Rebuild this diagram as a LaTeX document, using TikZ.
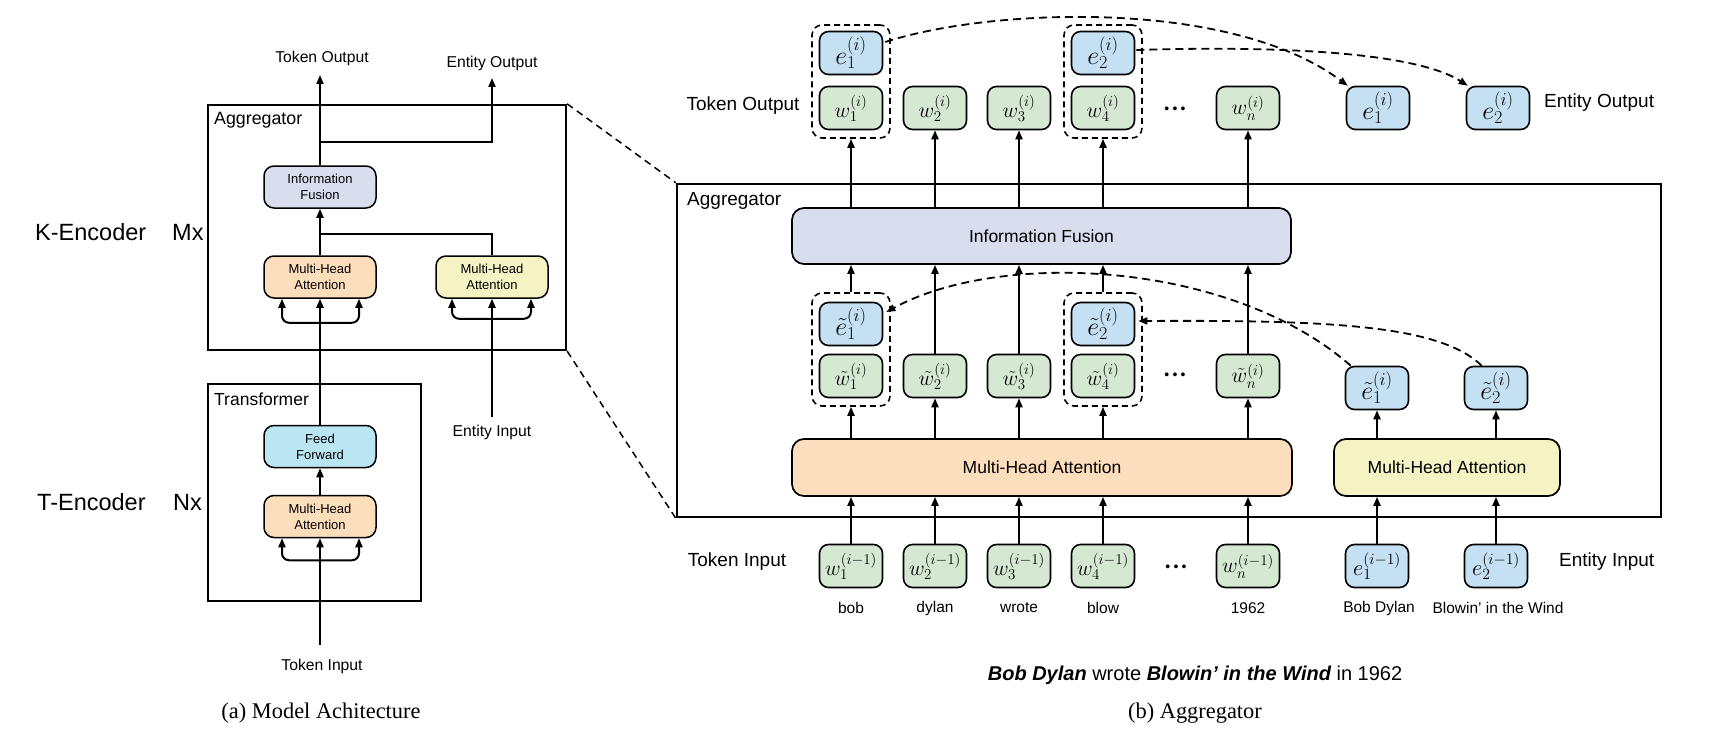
\documentclass[tikz,border=0pt]{standalone}
\usepackage{fix-cm}
\usepackage[no-math]{fontspec}
\setmainfont{Liberation Serif}
\setsansfont{Liberation Sans}
\usetikzlibrary{arrows.meta,calc}
\newcommand{\myfs}[1]{\fontsize{#1}{#1}\selectfont}
\definecolor{wgreen}{HTML}{D4E8D2}
\definecolor{eblue}{HTML}{C5E0F3}
\definecolor{iflav}{HTML}{D9DEEE}
\definecolor{mhaor}{HTML}{FDDEBC}
\definecolor{mhaye}{HTML}{F5F2C3}
\definecolor{ffcyan}{HTML}{BAE5F3}
\tikzset{
  lbl/.style={font=\sffamily\myfs{15.7}, inner sep=0pt},
  rlbl/.style={font=\sffamily\myfs{19}, inner sep=0pt},
  wordlbl/.style={font=\sffamily\myfs{15.5}, inner sep=0pt},
  enclbl/.style={font=\sffamily\myfs{23.5}, inner sep=0pt, anchor=west},
  caplbl/.style={font=\rmfamily\myfs{22.4}, inner sep=0pt},
  outerframe/.style={draw, line width=2.3pt, inner sep=0pt},
  sbox/.style={draw, line width=1.5pt, rounded corners=10pt, minimum width=112pt, minimum height=42pt, inner sep=0pt, align=center, font=\sffamily\fontsize{13}{15.7}\selectfont},
  bigbox/.style={draw, line width=1.7pt, rounded corners=12pt, inner sep=0pt, font=\sffamily\myfs{17.5}},
  wbox/.style={draw, line width=1.6pt, rounded corners=9pt, fill=wgreen, minimum width=63pt, minimum height=43pt, inner sep=0pt, font=\myfs{21.5}},
  ebox/.style={wbox, fill=eblue, font=\myfs{26}},
  einbox/.style={wbox, fill=eblue, font=\myfs{22.5}},
  grp/.style={draw, line width=1.6pt, dash pattern=on 6pt off 4pt, rounded corners=10pt, inner sep=0pt, minimum width=78pt, minimum height=113pt},
  conn/.style={line width=2pt},
  arr/.style={line width=2pt, -{Triangle[length=9pt,width=7pt]}},
  dasharr/.style={line width=1.8pt, dash pattern=on 8pt off 5pt, -{Triangle[length=9pt,width=7pt]}},
  zoomline/.style={line width=1.5pt, dash pattern=on 7pt off 5pt},
  dotsnode/.style={font=\sffamily\myfs{14}, inner sep=0pt},
}
\newcommand{\mydots}{\textbullet\hspace{3.2pt}\textbullet\hspace{3.2pt}\textbullet}
\begin{document}
\begin{tikzpicture}[x=1pt,y=-1pt]
\useasboundingbox (0,0) rectangle (1720,741);
% ================= (a) =================
\node[outerframe, minimum width=358pt, minimum height=245pt] (lagg) at (387,227.5) {};
\node[outerframe, minimum width=213pt, minimum height=217pt] (ltrans) at (314.5,492.5) {};
\node[lbl, font=\sffamily\myfs{17.8}, anchor=west] (laggl) at (214,120) {Aggregator};
\node[lbl, font=\sffamily\myfs{17.5}, anchor=west] (ltransl) at (214,399) {Transformer};
\node[sbox, fill=iflav] (lif) at (320,187) {Information\\Fusion};
\node[sbox, fill=mhaor] (lmha) at (320,277) {Multi-Head\\Attention};
\node[sbox, fill=mhaye] (lmhay) at (492,277) {Multi-Head\\Attention};
\node[sbox, fill=ffcyan] (lff) at (320,446.5) {Feed\\Forward};
\node[sbox, fill=mhaor] (ltmha) at (320,516.5) {Multi-Head\\Attention};
\node[lbl] (ltokout) at (322,58) {Token Output};
\node[lbl] (lentout) at (492,63) {Entity Output};
\node[lbl] (ltokin) at (322,666) {Token Input};
\node[lbl] (lentin) at (492,432) {Entity Input};
\node[enclbl] (kenc) at (35,232) {K-Encoder};
\node[enclbl] (kencm) at (172,232) {Mx};
\node[enclbl] (tenc) at (37,502) {T-Encoder};
\node[enclbl] (tencn) at (173,502) {Nx};
\node[caplbl] (capa) at (321,713) {(a) Model Achitecture};
\coordinate (tokoutend) at (320,75);
\coordinate (entoutend) at (492,78);
\coordinate (tokinstart) at (320,645);
\coordinate (entinstart) at (492,417);
\draw[arr] (lif.north) -- (tokoutend);
\draw[arr] ($(lif.north)+(0,-23)$) -| (entoutend);
\draw[arr] (lmha.north) -- (lif.south);
\draw[conn] (lmhay.north) |- ($(lif.south)+(0,25)$);
\draw[arr] (lff.north) -- (lmha.south);
\draw[arr, rounded corners=7pt] ($(lmha.south)+(0,24)$) -| ($(lmha.south)+(-38,0)$);
\draw[arr, rounded corners=7pt] ($(lmha.south)+(0,24)$) -| ($(lmha.south)+(39,0)$);
\draw[arr] (ltmha.north) -- (lff.south);
\draw[arr] (tokinstart) -- (ltmha.south);
\draw[arr, rounded corners=7pt] ($(ltmha.south)+(0,22)$) -| ($(ltmha.south)+(-38,0)$);
\draw[arr, rounded corners=7pt] ($(ltmha.south)+(0,22)$) -| ($(ltmha.south)+(39,0)$);
\draw[arr] (entinstart) -- (lmhay.south);
\draw[arr, rounded corners=7pt] ($(lmhay.south)+(0,20)$) -| ($(lmhay.south)+(-40,0)$);
\draw[arr, rounded corners=7pt] ($(lmhay.south)+(0,20)$) -| ($(lmhay.south)+(39,0)$);
% ================= (b) =================
\node[outerframe, line width=2.5pt, minimum width=984pt, minimum height=333pt] (ragg) at (1169,350.5) {};
\draw[zoomline] (lagg.north east) -- (ragg.north west);
\draw[zoomline] (lagg.south east) -- (ragg.south west);
\node[rlbl, anchor=west] (raggl) at (687,201) {Aggregator};
\node[bigbox, fill=iflav, minimum width=499pt, minimum height=56pt] (rif) at (1041.5,236) {Information Fusion};
\node[bigbox, fill=mhaor, minimum width=500pt, minimum height=57pt] (rmha) at (1042,467.5) {Multi-Head Attention};
\node[bigbox, fill=mhaye, minimum width=226pt, minimum height=57pt] (rmhay) at (1447,467.5) {Multi-Head Attention};
% top row
\node[grp] (tg1) at (851,81.5) {};
\node[grp] (tg2) at (1103,81.5) {};
\node[ebox] (e1) at (851,53) {$e_1^{(i)}$};
\node[wbox] (w1) at (851,108) {$w_1^{(i)}$};
\node[wbox] (w2) at (935,108) {$w_2^{(i)}$};
\node[wbox] (w3) at (1019,108) {$w_3^{(i)}$};
\node[ebox] (e2) at (1103,53) {$e_2^{(i)}$};
\node[wbox] (w4) at (1103,108) {$w_4^{(i)}$};
\node[dotsnode] (tdots) at (1175,110) {\mydots};
\node[wbox] (wn) at (1248,108) {$w_n^{(i)}$};
\node[ebox] (e1o) at (1378,108) {$e_1^{(i)}$};
\node[ebox] (e2o) at (1498,108) {$e_2^{(i)}$};
\node[rlbl] (rtokout) at (743,106) {Token Output};
\node[rlbl, anchor=west] (rentout) at (1544,103) {Entity Output};
% middle row
\node[grp] (mg1) at (851,349.5) {};
\node[grp] (mg2) at (1103,349.5) {};
\node[ebox] (et1) at (851,324) {$\tilde{e}_1^{(i)}$};
\node[wbox] (wt1) at (851,376) {$\tilde{w}_1^{(i)}$};
\node[wbox] (wt2) at (935,376) {$\tilde{w}_2^{(i)}$};
\node[wbox] (wt3) at (1019,376) {$\tilde{w}_3^{(i)}$};
\node[ebox] (et2) at (1103,324) {$\tilde{e}_2^{(i)}$};
\node[wbox] (wt4) at (1103,376) {$\tilde{w}_4^{(i)}$};
\node[dotsnode] (mdots) at (1175,376) {\mydots};
\node[wbox] (wtn) at (1248,376) {$\tilde{w}_n^{(i)}$};
\node[ebox] (ett1) at (1377,388) {$\tilde{e}_1^{(i)}$};
\node[ebox] (ett2) at (1496,388) {$\tilde{e}_2^{(i)}$};
% bottom row
\node[wbox] (bw1) at (851,566) {$w_1^{(i-1)}$};
\node[wbox] (bw2) at (935,566) {$w_2^{(i-1)}$};
\node[wbox] (bw3) at (1019,566) {$w_3^{(i-1)}$};
\node[wbox] (bw4) at (1103,566) {$w_4^{(i-1)}$};
\node[dotsnode] (bdots) at (1176,568) {\mydots};
\node[wbox] (bwn) at (1248,566) {$w_n^{(i-1)}$};
\node[einbox] (be1) at (1377,566) {$e_1^{(i-1)}$};
\node[einbox] (be2) at (1496,566) {$e_2^{(i-1)}$};
\node[wordlbl] (lbob) at (851,608) {bob};
\node[wordlbl] (ldylan) at (935,608) {dylan};
\node[wordlbl] (lwrote) at (1019,608) {wrote};
\node[wordlbl] (lblow) at (1103,608) {blow};
\node[wordlbl] (l1962) at (1248,608) {1962};
\node[wordlbl] (lbd) at (1379,608) {Bob Dylan};
\node[wordlbl] (lbitw) at (1498,608) {Blowin’ in the Wind};
\node[rlbl] (rtokin) at (737,562) {Token Input};
\node[rlbl, anchor=west] (rentin) at (1559,562) {Entity Input};
\node[inner sep=0pt, font=\sffamily\myfs{20}] (sent) at (1195,675) {{\bfseries\itshape Bob Dylan} wrote {\bfseries\itshape Blowin’ in the Wind} in 1962};
\node[caplbl] (capb) at (1195,713) {(b) Aggregator};
% connectors top
\draw[arr] (w1 |- rif.north) -- (tg1.south);
\draw[arr] (w2 |- rif.north) -- (w2.south);
\draw[arr] (w3 |- rif.north) -- (w3.south);
\draw[arr] (w4 |- rif.north) -- (tg2.south);
\draw[arr] (wn |- rif.north) -- (wn.south);
% middle -> IF
\draw[arr] (mg1.north) -- (mg1 |- rif.south);
\draw[arr] (wt2.north) -- (wt2 |- rif.south);
\draw[arr] (wt3.north) -- (wt3 |- rif.south);
\draw[arr] (mg2.north) -- (mg2 |- rif.south);
\draw[arr] (wtn.north) -- (wtn |- rif.south);
% MHA -> middle
\draw[arr] (mg1 |- rmha.north) -- (mg1.south);
\draw[arr] (wt2 |- rmha.north) -- (wt2.south);
\draw[arr] (wt3 |- rmha.north) -- (wt3.south);
\draw[arr] (mg2 |- rmha.north) -- (mg2.south);
\draw[arr] (wtn |- rmha.north) -- (wtn.south);
\draw[arr] (ett1 |- rmhay.north) -- (ett1.south);
\draw[arr] (ett2 |- rmhay.north) -- (ett2.south);
% bottom -> MHA
\draw[arr] (bw1.north) -- (bw1 |- rmha.south);
\draw[arr] (bw2.north) -- (bw2 |- rmha.south);
\draw[arr] (bw3.north) -- (bw3 |- rmha.south);
\draw[arr] (bw4.north) -- (bw4 |- rmha.south);
\draw[arr] (bwn.north) -- (bwn |- rmha.south);
\draw[arr] (be1.north) -- (be1 |- rmhay.south);
\draw[arr] (be2.north) -- (be2 |- rmhay.south);
% dashed curves
\draw[dasharr] ($(e1.east)+(2,-11)$) .. controls (990,8) and (1230,-2) .. ($(e1o.north west)+(2,0)$);
\draw[dasharr] ($(e2.east)+(1,-3)$) .. controls (1300,45) and (1420,55) .. ($(e2o.north west)+(2,0)$);
\draw[dasharr] ($(ett1.north west)+(6,0)$) .. controls (1230,260) and (1000,250) .. ($(et1.east)+(3,-12)$);
\draw[dasharr] ($(ett2.north west)+(18,0)$) .. controls (1440,325) and (1330,320) .. ($(et2.east)+(3,-3)$);
\end{tikzpicture}
\end{document}
